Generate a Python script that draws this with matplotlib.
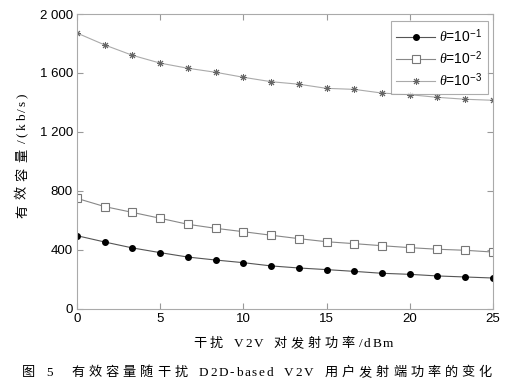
import numpy as np
import matplotlib.pyplot as plt

plt.rcParams['font.family'] = ['Liberation Sans', 'Noto Sans CJK SC', 'DejaVu Sans']
plt.rcParams['mathtext.fontset'] = 'custom'
plt.rcParams['mathtext.rm'] = 'Liberation Sans'
plt.rcParams['mathtext.it'] = 'Liberation Serif:italic'

# transmit power of the interfering V2V pair (dBm)
power = [0, 1.67, 3.33, 5, 6.67, 8.33, 10, 11.67, 13.33, 15, 16.67, 18.33, 20, 21.67, 23.33, 25]

# effective capacity (kb/s) for each theta
cap_1 = [497, 454, 414, 382, 352, 332, 314, 292, 278, 267, 255, 242, 235, 224, 217, 210]
cap_2 = [750, 694, 655, 615, 574, 547, 524, 500, 477, 456, 443, 429, 416, 405, 398, 386]
cap_3 = [1871, 1790, 1720, 1667, 1632, 1605, 1571, 1541, 1524, 1496, 1489, 1464, 1453, 1435, 1422, 1415]

labels = [r'$\theta$=10$^{-1}$', r'$\theta$=10$^{-2}$', r'$\theta$=10$^{-3}$']
yticks = [0, 400, 800, 1200, 1600, 2000]
ytick_labels = ['0', '400', '800', '1 200', '1 600', '2 000']

xlabel = '干扰 V2V 对发射功率/dBm'
ylabel = '有效容量/(kb/s)'
caption = '图 5  有效容量随干扰 D2D-based V2V 用户发射端功率的变化'

serif_cjk = ['Liberation Serif', 'Noto Sans CJK SC', 'DejaVu Sans']
W, H = 515, 389

# Times / Liberation Serif advance widths, per 1000 em
times_w = {' ': 250, 'V': 722, 'D': 722, 'B': 667, '2': 500, '5': 500, '-': 333,
           '/': 278, '(': 333, ')': 333, 'a': 444, 'b': 500, 'd': 500, 'e': 444,
           'k': 500, 'm': 778, 's': 389}

fig = plt.figure(figsize=(W / 100, H / 100), dpi=100)
ax = fig.add_axes([0.1495, 0.2057, 0.8075, 0.7583])


def is_cjk(ch):
    return ord(ch) > 0x2e80


def tracked(text, start, end, base, size=9.5, vertical=False):
    # letter-spaced text stretched between start and end (pixels from the
    # left, or from the top when vertical); base is the baseline in pixels.
    # Chinese characters get wider spacing than runs of Latin letters.
    em = size * 100 / 72
    widths = [em if is_cjk(ch) else em * times_w.get(ch, 500) / 1000 for ch in text]
    weights = []
    for a, b in zip(text[:-1], text[1:]):
        latin_pair = not (is_cjk(a) or is_cjk(b)) and a != ' ' and b != ' '
        weights.append(0.45 if latin_pair else 1.0)
    track = (abs(end - start) - sum(widths)) / sum(weights)
    pos = start
    for i, ch in enumerate(text):
        if ch != ' ':
            if vertical:
                fig.text(base / W, 1 - pos / H, ch, fontsize=size, family=serif_cjk,
                         rotation=90, rotation_mode='anchor', ha='left', va='baseline')
            else:
                fig.text(pos / W, 1 - base / H, ch, fontsize=size, family=serif_cjk,
                         ha='left', va='baseline')
        if i < len(weights):
            step = widths[i] + track * weights[i]
            pos = pos - step if vertical else pos + step


ax.plot(power, cap_1, '-', color='#555555', lw=0.8, marker='o', ms=4,
        mfc='black', mec='black', label=labels[0])
ax.plot(power, cap_2, '-', color='#888888', lw=0.8, marker='s', ms=5.5,
        mfc='white', mec='#777777', mew=0.8, label=labels[1])
ax.plot(power, cap_3, '-', color='#aaaaaa', lw=0.8, marker=(8, 2, 0), ms=5,
        mec='#666666', mew=0.7, label=labels[2])

ax.set_xlim(0, 25)
ax.set_ylim(0, 2000)
ax.set_xticks([0, 5, 10, 15, 20, 25])
ax.set_yticks(yticks)
ax.set_yticklabels(ytick_labels)
ax.tick_params(direction='in', top=True, right=True, labelsize=9.5, length=4,
               color='#999999', pad=3)
for s in ax.spines.values():
    s.set_color('#aaaaaa')
    s.set_linewidth(0.8)

leg = ax.legend(loc='upper right', fontsize=10, frameon=True, fancybox=False,
                edgecolor='#999999', handlelength=2.8, handletextpad=0.3,
                borderpad=0.4, labelspacing=0.3, borderaxespad=0,
                bbox_to_anchor=(0.988, 0.976))
leg.get_frame().set_linewidth(0.8)

tracked(xlabel, 193, 393, 347)
tracked(ylabel, 218, 94, 26, vertical=True)
tracked(caption, 22, 492, 376)

fig.savefig('out.png', dpi=100)
